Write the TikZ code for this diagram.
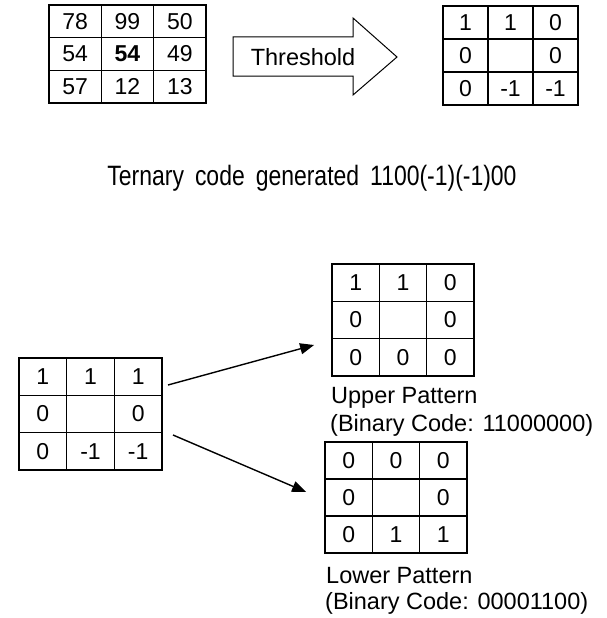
\documentclass[tikz,border=0pt]{standalone}
\usepackage{fontspec}
\setmainfont{Liberation Sans}
\newfontfamily\condfont[FakeStretch=0.82]{Liberation Sans}
\usetikzlibrary{matrix,arrows.meta}

\begin{document}
\begin{tikzpicture}[x=1pt,y=-1pt,
  numfont/.style={font=\fontsize{23}{23}\selectfont},
  boldnum/.style={font=\fontsize{23}{23}\selectfont\bfseries},
  labelfont/.style={font=\fontsize{23.5}{23.5}\selectfont, inner sep=0pt},
  gridof/.style 2 args={matrix of nodes, nodes in empty cells, inner sep=0pt,
    column sep=-1.5pt, row sep=-1.5pt,
    nodes={draw, line width=1.5pt, minimum width=#1, minimum height=#2,
      inner sep=0pt, outer sep=0pt, anchor=center, numfont}},
  link/.style={line width=1.4pt, -{Triangle[length=14pt,width=11pt]}},
  bigarrow/.style={line width=1pt, line join=miter}
]
\useasboundingbox (0,0) rectangle (606,618);

% input neighbourhood and its thresholded version
\matrix[gridof={52.3pt}{32.7pt}] (A) at (127.5,54) {
  78 & 99 & 50 \\
  54 & |[boldnum]| 54 & 49 \\
  57 & 12 & 13 \\
};
\matrix[gridof={45pt}{33pt}] (B) at (510.5,55.5) {
  1 & 1 & 0 \\
  0 &   & 0 \\
  0 & -1 & -1 \\
};

% block arrow carrying the threshold step
\draw[bigarrow] (233,37) -- (353,37) -- (353,18) -- (397,57)
  -- (353,95) -- (353,76) -- (233,76) -- cycle;
\node[labelfont] (thr) at (303,57) {Threshold};

% resulting ternary code
\node[inner sep=0pt, anchor=base,
  font=\condfont\fontsize{28}{28}\selectfont] (tern) at (312,185)
  {\spaceskip=11pt Ternary code generated 1100(-1)(-1)00};

% ternary pattern split into upper and lower binary patterns
\matrix[gridof={47.7pt}{37.3pt}] (C) at (90.5,414) {
  1 & 1 & 1 \\
  0 &   & 0 \\
  0 & -1 & -1 \\
};
\matrix[gridof={47.3pt}{37.3pt}] (D) at (403,320) {
  1 & 1 & 0 \\
  0 &   & 0 \\
  0 & 0 & 0 \\
};
\matrix[gridof={47.3pt}{37pt}] (E) at (396,497.5) {
  0 & 0 & 0 \\
  0 &   & 0 \\
  0 & 1 & 1 \\
};

\node[labelfont, anchor=base west] (upname) at (331,403) {Upper Pattern};
\node[labelfont, anchor=base west] (upcode) at (330,431) {(Binary Code: 11000000)};
\node[labelfont, anchor=base west] (loname) at (326,583) {Lower Pattern};
\node[labelfont, anchor=base west] (locode) at (325,609) {(Binary Code: 00001100)};

\draw[link] ([xshift=5pt,yshift=29pt]C.east) -- ([xshift=-17pt,yshift=-25pt]D.west);
\draw[link] ([xshift=10pt,yshift=-21pt]C.east) -- ([xshift=-18pt,yshift=5.5pt]E.west);
\end{tikzpicture}
\end{document}
